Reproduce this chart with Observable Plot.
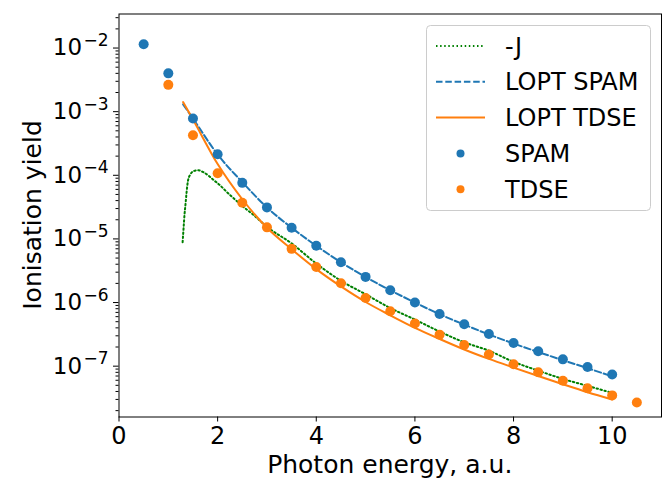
<!DOCTYPE html>
<html><head><meta charset="utf-8">
<script src="https://cdn.jsdelivr.net/npm/d3@7"></script>
<script src="https://cdn.jsdelivr.net/npm/@observablehq/plot@0.6"></script>
<style>body{margin:0;background:#fff} svg{display:block}</style>
</head><body><div id="chart"></div>
<script>
// ---- data ----
const spamX = [0.5,1,1.5,2,2.5,3,3.5,4,4.5,5,5.5,6,6.5,7,7.5,8,8.5,9,9.5,10];
const spamY = [1.15e-2,4.0e-3,7.8e-4,2.14e-4,7.6e-5,3.13e-5,1.5e-5,7.8e-6,4.3e-6,2.53e-6,1.56e-6,1.0e-6,6.6e-7,4.55e-7,3.2e-7,2.31e-7,1.71e-7,1.28e-7,9.7e-8,7.4e-8];
const tdseX = [1,1.5,2,2.5,3,3.5,4,4.5,5,5.5,6,6.5,7,7.5,8,8.5,9,9.5,10,10.5];
const tdseY = [2.64e-3,4.26e-4,1.08e-4,3.7e-5,1.52e-5,6.98e-6,3.63e-6,2.01e-6,1.18e-6,7.3e-7,4.67e-7,3.13e-7,2.15e-7,1.53e-7,1.07e-7,8.0e-8,5.9e-8,4.5e-8,3.47e-8,2.69e-8];
const jX = [1.29,1.31,1.33,1.35,1.37,1.4,1.45,1.52,1.6,1.7,1.82,1.92,2.0,2.25,2.5,2.75,3.0,3.5,4,4.5,5,5.5,6,6.5,7,7.5,8,8.5,9,9.5,10];
const jY = [8.9e-6,1.5e-5,2.5e-5,3.6e-5,5.4e-5,8.3e-5,1.04e-4,1.17e-4,1.2e-4,1.13e-4,9.8e-5,8.4e-5,7.5e-5,4.9e-5,3.3e-5,2.3e-5,1.55e-5,8.5e-6,4.1e-6,2.2e-6,1.35e-6,8.2e-7,5.4e-7,3.5e-7,2.37e-7,1.75e-7,1.17e-7,8.5e-8,6.3e-8,4.9e-8,3.8e-8];
const loptSpamX = [1.3,1.5,2,2.5,3,3.5,4,4.5,5,5.5,6,6.5,7,7.5,8,8.5,9,9.5,10];
const loptSpamY = [1.3e-3,7.8e-4,2.12e-4,7.8e-5,3.12e-5,1.5e-5,7.8e-6,4.3e-6,2.52e-6,1.56e-6,1.0e-6,6.55e-7,4.5e-7,3.15e-7,2.27e-7,1.67e-7,1.24e-7,9.3e-8,6.9e-8];
const loptTdseX = [1.3,1.5,2,2.5,3,3.5,4,4.5,5,5.5,6,6.5,7,7.5,8,8.5,9,9.5,10];
const loptTdseY = [1.41e-3,7.5e-4,1.5e-4,4.2e-5,1.5e-5,6.9e-6,3.35e-6,1.79e-6,1.02e-6,6.3e-7,4.0e-7,2.68e-7,1.83e-7,1.3e-7,9.5e-8,7.0e-8,5.2e-8,3.9e-8,3.0e-8];
const xTicks = [0,2,4,6,8,10];
const yTickExps = [-7,-6,-5,-4,-3,-2];
const legendLabels = ["-J","LOPT SPAM","LOPT TDSE","SPAM","TDSE"];

const C_BLUE = "#1f77b4", C_ORANGE = "#ff7f0e", C_GREEN = "#008000";
const zip = (xs, ys) => xs.map((x, i) => ({x, y: ys[i]}));
const spam = zip(spamX, spamY), tdse = zip(tdseX, tdseY), jd = zip(jX, jY);
const lspam = zip(loptSpamX, loptSpamY), ltdse = zip(loptTdseX, loptTdseY);

const yMajor = yTickExps.map(e => Math.pow(10, e));
const yDomain = [Math.pow(10, -7.799), Math.pow(10, -1.465)];
const yMinor = [];
for (let e = -8; e <= -2; e++) for (let m = 2; m <= 9; m++) {
  const v = m * Math.pow(10, e);
  if (v >= yDomain[0] && v <= yDomain[1]) yMinor.push(v);
}

const chart = Plot.plot({
  width: 662, height: 480,
  marginLeft: 118.5, marginRight: 1, marginTop: 13.5, marginBottom: 63.5,
  style: {fontFamily: "DejaVu Sans", background: "white", color: "black", overflow: "visible"},
  x: {domain: [0, 11], axis: null},
  y: {type: "log", domain: yDomain, axis: null},
  marks: [
    Plot.line(jd, {x: "x", y: "y", stroke: C_GREEN, strokeWidth: 2, strokeDasharray: "1.5,2.6", curve: "monotone-x"}),
    Plot.line(lspam, {x: "x", y: "y", stroke: C_BLUE, strokeWidth: 2, strokeDasharray: "6.5,2.8", curve: "monotone-x"}),
    Plot.line(ltdse, {x: "x", y: "y", stroke: C_ORANGE, strokeWidth: 2, curve: "monotone-x"}),
    Plot.dot(spam, {x: "x", y: "y", r: 5, fill: C_BLUE}),
    Plot.dot(tdse, {x: "x", y: "y", r: 5, fill: C_ORANGE}),
    Plot.frame({stroke: "black", strokeWidth: 1}),
    Plot.axisX({ticks: xTicks, tickSize: 5, tickPadding: 4.5, fontSize: 24, label: null, tickFormat: d => String(d)}),
    Plot.axisY({ticks: yMinor, tickSize: 3, label: null, tickFormat: () => ""}),
    Plot.axisY({ticks: yMajor, tickSize: 5.5, tickPadding: 5, fontSize: 23, label: null,
      tickFormat: d => "10|" + Math.round(Math.log10(d))})
  ]
});
document.getElementById("chart").appendChild(chart);

const svg = d3.select(chart);
// superscript exponents on y tick labels
svg.selectAll("text").each(function() {
  const t = this.textContent;
  if (t && t.indexOf("|") >= 0) {
    const [base, exp] = t.split("|");
    const el = d3.select(this);
    el.text(base);
    el.append("tspan").attr("dx", "0.08em").attr("dy", "-0.55em").attr("font-size", "0.74em").text(exp.replace("-", "\u2212"));
  }
});

// axis labels
svg.append("text").attr("x", 389.75).attr("y", 473).attr("text-anchor", "middle")
  .attr("font-family", "DejaVu Sans").attr("font-size", 25).attr("fill", "black")
  .text("Photon energy, a.u.");
svg.append("text").attr("transform", "translate(41,215) rotate(-90)").attr("text-anchor", "middle")
  .attr("font-family", "DejaVu Sans").attr("font-size", 25).attr("fill", "black")
  .text("Ionisation yield");

// legend
const lg = svg.append("g").attr("font-family", "DejaVu Sans").attr("font-size", 24).attr("text-anchor", "start");
lg.append("rect").attr("x", 426.5).attr("y", 25.5).attr("width", 224).attr("height", 185)
  .attr("rx", 4).attr("fill", "white").attr("fill-opacity", 0.8).attr("stroke", "#cccccc").attr("stroke-width", 1);
const styles = [
  {type: "line", color: C_GREEN, dash: "1.5,2.6"},
  {type: "line", color: C_BLUE, dash: "6.5,2.8"},
  {type: "line", color: C_ORANGE, dash: null},
  {type: "dot", color: C_BLUE},
  {type: "dot", color: C_ORANGE}
];
legendLabels.forEach((lab, i) => {
  const cy = 46 + i * 35.8;
  const s = styles[i];
  if (s.type === "line") {
    const ln = lg.append("line").attr("x1", 436).attr("x2", 485).attr("y1", cy).attr("y2", cy)
      .attr("stroke", s.color).attr("stroke-width", 2);
    if (s.dash) ln.attr("stroke-dasharray", s.dash);
  } else {
    lg.append("circle").attr("cx", 460.5).attr("cy", cy).attr("r", 4).attr("fill", s.color);
  }
  lg.append("text").attr("x", 505).attr("y", cy).attr("dy", "0.36em").attr("fill", "black").attr("text-anchor", "start").text(lab);
});
</script></body></html>
